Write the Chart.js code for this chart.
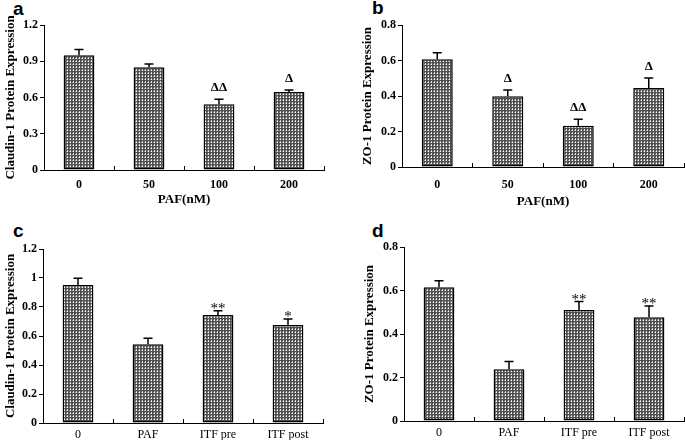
<!DOCTYPE html>
<html><head><meta charset="utf-8">
<script src="https://cdn.jsdelivr.net/npm/chart.js@4.4.0/dist/chart.umd.min.js"></script>
<style>
html,body{margin:0;padding:0;background:#fff;width:685px;height:440px;overflow:hidden}
body{position:relative}
canvas{position:absolute}
.lbl{position:absolute;font:bold 19px "Liberation Sans",Arial,sans-serif;color:#000;line-height:19px}
</style></head><body>
<div class="lbl" style="left:13px;top:-1px">a</div>
<div class="lbl" style="left:372px;top:-2px">b</div>
<div class="lbl" style="left:13px;top:221px">c</div>
<div class="lbl" style="left:372px;top:221px">d</div>
<canvas id="ca" width="342" height="220" style="left:0;top:0"></canvas>
<canvas id="cb" width="327" height="220" style="left:358px;top:0"></canvas>
<canvas id="cc" width="342" height="220" style="left:0;top:220px"></canvas>
<canvas id="cd" width="325" height="220" style="left:360px;top:220px"></canvas>
<script>
// ---- data ----
const doseCategories = ['0', '50', '100', '200'];
const treatCategories = ['0', 'PAF', 'ITF pre', 'ITF post'];

const claudinDose = [0.95, 0.85, 0.545, 0.645];
const claudinDoseErr = [0.048, 0.028, 0.04, 0.017];
const claudinDoseMarks = ['', '', 'ΔΔ', 'Δ'];

const zo1Dose = [0.607, 0.398, 0.233, 0.445];
const zo1DoseErr = [0.037, 0.036, 0.036, 0.056];
const zo1DoseMarks = ['', 'Δ', 'ΔΔ', 'Δ'];

const claudinTreat = [0.952, 0.543, 0.745, 0.676];
const claudinTreatErr = [0.046, 0.041, 0.03, 0.041];
const claudinTreatMarks = ['', '', '**', '*'];

const zo1Treat = [0.615, 0.238, 0.51, 0.477];
const zo1TreatErr = [0.03, 0.035, 0.039, 0.052];
const zo1TreatMarks = ['', '', '**', '**'];

const yTicksA = [0, 0.3, 0.6, 0.9, 1.2];
const yTickLabelsA = ['0', '0.3', '0.6', '0.9', '1.2'];
const yTicksB = [0, 0.2, 0.4, 0.6, 0.8];
const yTickLabelsB = ['0', '0.2', '0.4', '0.6', '0.8'];
const yTicksC = [0, 0.2, 0.4, 0.6, 0.8, 1, 1.2];
const yTickLabelsC = ['0', '0.2', '0.4', '0.6', '0.8', '1', '1.2'];
const yTicksD = [0, 0.2, 0.4, 0.6, 0.8];
const yTickLabelsD = ['0', '0.2', '0.4', '0.6', '0.8'];

// ---- styles ----
const SERIF = '"Liberation Serif","Times New Roman",serif';

function makePattern() {
  const c = document.createElement('canvas');
  c.width = 3; c.height = 3;
  const g = c.getContext('2d');
  g.fillStyle = '#505050'; g.fillRect(0, 0, 3, 3);
  g.fillStyle = '#ffffff'; g.fillRect(1, 1, 1, 1);
  g.fillStyle = '#c8c8c8'; g.fillRect(1, 0, 1, 1);
  g.fillStyle = '#909090'; g.fillRect(0, 1, 1, 1);
  return document.createElement('canvas').getContext('2d').createPattern(c, 'repeat');
}
const barPattern = makePattern();

const errPlugin = {
  id: 'errbars',
  afterDatasetsDraw(chart, args, opts) {
    const ctx = chart.ctx;
    const meta = chart.getDatasetMeta(0);
    const ys = chart.scales.y;
    const vals = chart.data.datasets[0].data;
    meta.data.forEach((bar, i) => {
      const v = vals[i], e = opts.errs[i];
      const x = bar.x;
      const yv = ys.getPixelForValue(v);
      const yt = ys.getPixelForValue(v + e);
      ctx.save();
      ctx.strokeStyle = '#000';
      ctx.lineWidth = 1.5;
      ctx.beginPath();
      ctx.moveTo(x, yv); ctx.lineTo(x, yt);
      ctx.moveTo(x - 4.5, yt); ctx.lineTo(x + 4.5, yt);
      ctx.stroke();
      const m = opts.marks[i];
      if (m) {
        ctx.fillStyle = '#000';
        ctx.textAlign = 'center';
        ctx.textBaseline = 'alphabetic';
        if (m.indexOf('*') >= 0) {
          ctx.font = '15px ' + SERIF;
          ctx.fillText(m, x, yt + 2);
        } else {
          ctx.font = 'bold 13px ' + SERIF;
          ctx.fillText(m, x, yt - 8);
        }
      }
      ctx.restore();
    });
  }
};

function makePanel(id, cats, vals, errs, marks, yTicks, yLabels, yTitle, xTitle, g) {
  new Chart(document.getElementById(id), {
    type: 'bar',
    data: {
      labels: cats,
      datasets: [{
        data: vals,
        backgroundColor: barPattern,
        borderColor: '#000',
        borderWidth: 1.5,
        borderSkipped: false,
        barPercentage: 0.44,
        categoryPercentage: 1
      }]
    },
    plugins: [errPlugin],
    options: {
      responsive: false,
      animation: false,
      events: [],
      layout: { padding: { top: g.pt, right: g.pr, bottom: 0, left: 0 } },
      plugins: {
        legend: { display: false },
        tooltip: { enabled: false },
        errbars: { errs: errs, marks: marks }
      },
      scales: {
        x: {
          offset: true,
          grid: { display: true, offset: true, drawOnChartArea: false, drawTicks: true, tickLength: -4, color: '#000', lineWidth: 1 },
          border: { display: true, color: '#000', width: 1 },
          ticks: { color: '#000', font: { family: SERIF, weight: g.xWeight, size: 12 }, padding: g.xPad, maxRotation: 0, autoSkip: false },
          title: { display: !!xTitle, text: xTitle || '', color: '#000', font: { family: SERIF, weight: 'bold', size: 13 }, padding: { top: 0, bottom: g.xtPad } },
          afterFit(s) { s.height = g.xH; }
        },
        y: {
          min: 0,
          max: yTicks[yTicks.length - 1],
          afterBuildTicks(s) { s.ticks = yTicks.map(v => ({ value: v })); },
          grid: { display: true, drawOnChartArea: false, drawTicks: true, tickLength: 4, color: '#000', lineWidth: 1 },
          border: { display: true, color: '#000', width: 1 },
          ticks: { color: '#000', font: { family: SERIF, weight: 'bold', size: 12 }, padding: 2, callback: (v, i) => yLabels[i] },
          title: { display: true, text: yTitle, color: '#000', font: { family: SERIF, weight: 'bold', size: 13 }, padding: { top: g.ytPad, bottom: 0 } },
          afterFit(s) { s.width = g.yW; }
        }
      }
    }
  });
}

makePanel('ca', doseCategories, claudinDose, claudinDoseErr, claudinDoseMarks, yTicksA, yTickLabelsA,
  'Claudin-1 Protein Expression', 'PAF(nM)', { pt: 25, pr: 18, xH: 50, xPad: 11.5, xtPad: 13, yW: 44, ytPad: 3, xWeight: 'bold' });
makePanel('cb', doseCategories, zo1Dose, zo1DoseErr, zo1DoseMarks, yTicksB, yTickLabelsB,
  'ZO-1 Protein Expression', 'PAF(nM)', { pt: 25, pr: 1, xH: 53, xPad: 14.5, xtPad: 11, yW: 44, ytPad: 2, xWeight: 'bold' });
makePanel('cc', treatCategories, claudinTreat, claudinTreatErr, claudinTreatMarks, yTicksC, yTickLabelsC,
  'Claudin-1 Protein Expression', '', { pt: 29, pr: 19, xH: 17, xPad: 8.5, xtPad: 0, yW: 43, ytPad: 3, xWeight: 'normal' });
makePanel('cd', treatCategories, zo1Treat, zo1TreatErr, zo1TreatMarks, yTicksD, yTickLabelsD,
  'ZO-1 Protein Expression', '', { pt: 27, pr: 1, xH: 19, xPad: 8.5, xtPad: 0, yW: 44, ytPad: 2, xWeight: 'normal' });
</script>
</body></html>
